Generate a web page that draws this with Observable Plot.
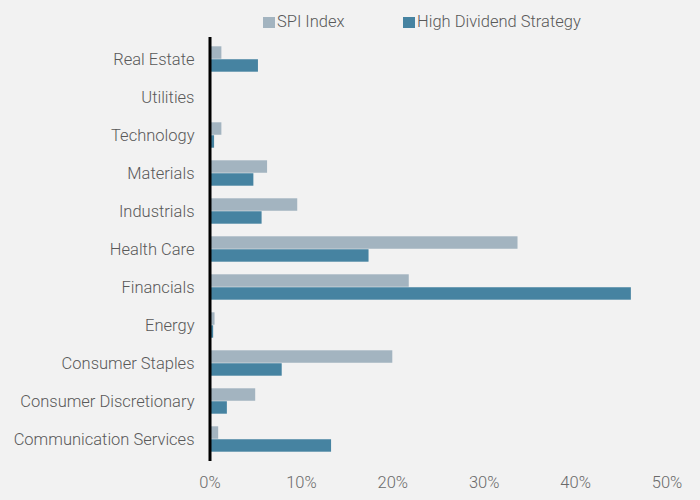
<!DOCTYPE html>
<html>
<head>
<meta charset="utf-8">
<script src="https://cdn.jsdelivr.net/npm/d3@7"></script>
<script src="https://cdn.jsdelivr.net/npm/@observablehq/plot@0.6"></script>
<style>
  html, body { margin: 0; padding: 0; background: #f2f2f2; }
  body { width: 700px; height: 500px; overflow: hidden; font-family: Roboto, "Noto Sans", sans-serif; }
  #legend { position: relative; height: 37px; width: 700px; color: #595959; font-size: 16.5px; font-weight: 300; }
  #legend .sw { position: absolute; width: 12px; height: 11px; top: 17px; }
  #legend .lb { position: absolute; top: 14.3px; line-height: 16px; white-space: nowrap; }
  #chart svg { display: block; }
</style>
</head>
<body>
<div id="legend"></div>
<div id="chart"></div>
<script>
const sectors = [
  "Real Estate", "Utilities", "Technology", "Materials", "Industrials",
  "Health Care", "Financials", "Energy", "Consumer Staples",
  "Consumer Discretionary", "Communication Services"
];
const spiIndex = [1.3, 0, 1.3, 6.3, 9.6, 33.7, 21.8, 0.55, 20.0, 5.0, 0.95];
const highDividend = [5.3, 0, 0.5, 4.8, 5.7, 17.4, 46.1, 0.4, 7.9, 1.9, 13.3];
const seriesNames = ["SPI Index", "High Dividend Strategy"];
const seriesColors = ["#a3b4c0", "#4683a1"];
const xTicks = [0, 10, 20, 30, 40, 50];

const spiData = sectors.map((s, i) => ({sector: s, value: spiIndex[i]}));
const hdData = sectors.map((s, i) => ({sector: s, value: highDividend[i]}));

// Legend
const legend = document.getElementById("legend");
const legendPos = [{sw: 263, lb: 277}, {sw: 403, lb: 417}];
seriesNames.forEach((name, i) => {
  const sw = document.createElement("div");
  sw.className = "sw";
  sw.style.left = legendPos[i].sw + "px";
  sw.style.background = seriesColors[i];
  const lb = document.createElement("div");
  lb.className = "lb";
  lb.style.left = legendPos[i].lb + "px";
  lb.textContent = name;
  legend.appendChild(sw);
  legend.appendChild(lb);
});

const chart = Plot.plot({
  width: 700,
  height: 463,
  marginTop: 0,
  marginBottom: 39,
  marginLeft: 209.5,
  marginRight: 33.5,
  style: {
    background: "#f2f2f2",
    fontFamily: "Roboto, 'Noto Sans', sans-serif",
    fontSize: "16.5px",
    fontWeight: 300,
    color: "#595959"
  },
  x: {domain: [0, 50], ticks: xTicks, tickFormat: d => d + "%", tickSize: 0, tickPadding: 15, label: null},
  y: {domain: sectors, padding: 0, tickSize: 0, tickPadding: 15.5, label: null},
  marks: [
    Plot.barX(spiData, {x: "value", y: "sector", fill: seriesColors[0], insetTop: 6.3, insetBottom: 19.25}),
    Plot.barX(hdData, {x: "value", y: "sector", fill: seriesColors[1], insetTop: 19.25, insetBottom: 6.3}),
    Plot.ruleX([0], {stroke: "#000", strokeWidth: 3})
  ]
});
document.getElementById("chart").appendChild(chart);
d3.select(chart).selectAll('g[aria-label^="x-axis"] text').attr("fill", "#6a6a6a");
</script>
</body>
</html>
